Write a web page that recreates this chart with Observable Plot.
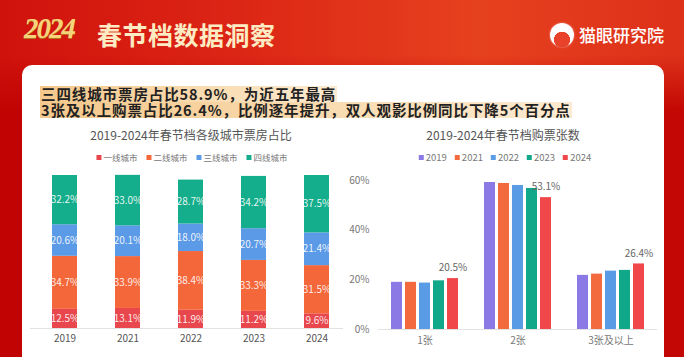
<!DOCTYPE html>
<html>
<head>
<meta charset="utf-8">
<script src="https://cdn.jsdelivr.net/npm/d3@7"></script>
<script src="https://cdn.jsdelivr.net/npm/@observablehq/plot@0.6"></script>
<style>
  html, body { margin: 0; padding: 0; }
  body {
    width: 684px; height: 357px; overflow: hidden; position: relative;
    font-family: "Noto Sans CJK SC", "Noto Sans", sans-serif;
    background:
      linear-gradient(to bottom, rgba(190,0,0,0) 55px, rgba(190,0,0,0.85) 110px),
      linear-gradient(to right, #D0120D 0%, #DC2615 35%, #E6411F 70%, #DD3019 100%);
  }
  .abs { position: absolute; }
  #yr { left: 24px; top: 12px; font: italic 700 29px "Liberation Serif", serif; letter-spacing: -2px;
        color: #F6D27A; text-shadow: 0 1px 0 #B8731E; }
  #title { left: 97px; top: 17px; font-size: 25px; font-weight: 700; color: #FDEBC4; letter-spacing: 0.5px; line-height: 34px; }
  #logoIcon { left: 550px; top: 23px; width: 24px; height: 24px; border-radius: 50%;
              background: radial-gradient(circle at 50% 70%, #E8432A 0 38%, #fff 40% 100%); box-shadow: 0 0 2px rgba(255,255,255,0.6); }
  #logoText { left: 579px; top: 23px; font-size: 17px; line-height: 24px; color: #fff; font-weight: 500; }
  #card { left: 22px; top: 65px; width: 642px; height: 320px; background: #fff; border-radius: 10px; }
  .bar { left: 40px; height: 16px; background: linear-gradient(to right, #F5C88C, #F9DDB4 60%, #FCEBD2); }
  #hltext { left: 41px; top: 86px; font-size: 14.5px; line-height: 16px; font-weight: 700; letter-spacing: 0.9px;
            color: #222; white-space: nowrap; }
  .sub { top: 127px; font-size: 12px; line-height: 16px; color: #555; transform: translateX(-50%); white-space: nowrap; }
  .legend { top: 151px; transform: translateX(-50%); display: flex; white-space: nowrap; color: #777; line-height: 12px; }
  .legend .it { display: flex; align-items: center; }
  .legend .sw { width: 5px; height: 5px; margin-right: 2px; }
</style>
</head>
<body>
<div id="yr" class="abs">2024</div>
<div id="title" class="abs">春节档数据洞察</div>
<div id="logoIcon" class="abs"></div>
<div id="logoText" class="abs">猫眼研究院</div>
<div id="card" class="abs"></div>
<div id="bar1" class="abs bar" style="top:86px"></div>
<div id="bar2" class="abs bar" style="top:102px"></div>
<div id="hltext" class="abs">三四线城市票房占比58.9%，为近五年最高<br>3张及以上购票占比26.4%，比例逐年提升，双人观影比例同比下降5个百分点</div>
<div class="abs sub" style="left:191px">2019-2024年春节档各级城市票房占比</div>
<div class="abs sub" style="left:503px">2019-2024年春节档购票张数</div>
<div id="legL" class="abs legend" style="left:192px; font-size:8.5px"></div>
<div id="legR" class="abs legend" style="left:505px; font-size:9.5px"></div>
<div id="chartL" class="abs" style="left:0px; top:165px"></div>
<div id="chartR" class="abs" style="left:340px; top:165px"></div>
<script>
// ---- Data: city-tier box office share ----
const years = ["2019", "2021", "2022", "2023", "2024"];
const tiers = ["一线城市", "二线城市", "三线城市", "四线城市"];
const tier1 = [12.5, 13.1, 11.9, 11.2, 9.6];
const tier2 = [34.7, 33.9, 38.4, 33.3, 31.5];
const tier3 = [20.6, 20.1, 18.0, 20.7, 21.4];
const tier4 = [32.2, 33.0, 28.7, 34.2, 37.5];
const tierColors = ["#E9474E", "#F4673B", "#5B9AE6", "#14AE8C"];

// ---- Data: tickets per purchase ----
const ticketCats = ["1张", "2张", "3张及以上"];
const ticketYears = ["2019", "2021", "2022", "2023", "2024"];
const oneTicket = [19.0, 19.0, 18.7, 19.6, 20.5];
const twoTickets = [59.2, 58.8, 58.0, 56.8, 53.1];
const threePlus = [21.8, 22.3, 23.5, 23.8, 26.4];
const yearColors = ["#8B7AE6", "#F26A3D", "#5A9BE6", "#10A889", "#F0474A"];

const font = '"Noto Sans CJK SC", "Noto Sans", sans-serif';

// highlight bars sized to the text lines
{
  const nodes = document.getElementById("hltext").childNodes;
  [[nodes[0], "bar1"], [nodes[2], "bar2"]].forEach(([node, id]) => {
    const range = document.createRange();
    range.selectNodeContents(node);
    const r = range.getBoundingClientRect();
    document.getElementById(id).style.width = (r.right - 40 + 1) + "px";
  });
}

const shareData = [];
[tier1, tier2, tier3, tier4].forEach((arr, i) => arr.forEach((v, j) => shareData.push({year: years[j], tier: tiers[i], value: v})));

const ticketData = [];
[oneTicket, twoTickets, threePlus].forEach((arr, i) => arr.forEach((v, j) => ticketData.push({cat: ticketCats[i], year: ticketYears[j], value: v})));

// legends
function legend(el, names, colors) {
  const root = document.getElementById(el);
  names.forEach((n, i) => {
    const it = document.createElement("div");
    it.className = "it";
    it.style.marginRight = i < names.length - 1 ? (el === "legL" ? "9px" : "8px") : "0";
    it.innerHTML = `<span class="sw" style="background:${colors[i]}"></span><span>${n}</span>`;
    root.appendChild(it);
  });
}
legend("legL", tiers, tierColors);
legend("legR", ticketYears, yearColors);

const left = Plot.plot({
  width: 345, height: 192,
  marginTop: 10, marginBottom: 29, marginLeft: 30, marginRight: 2,
  style: {fontSize: "10px", fontFamily: font, color: "#555", background: "transparent"},
  x: {domain: years, paddingInner: 0.6, paddingOuter: 0.284, align: 0.625, label: null, tickSize: 0, tickPadding: 6},
  y: {domain: [0, 100], axis: null},
  color: {domain: tiers, range: tierColors},
  marks: [
    Plot.barY(shareData, {x: "year", y: "value", fill: "tier"}),
    Plot.text(shareData, Plot.stackY({x: "year", y: "value", text: d => d.value.toFixed(1) + "%", fill: "white", fillOpacity: 0.9, fontSize: 10})),
    Plot.ruleY([0], {stroke: "#e2e2e2"})
  ]
});
document.getElementById("chartL").appendChild(left);

const right = Plot.plot({
  width: 344, height: 192,
  marginTop: 15, marginBottom: 28, marginLeft: 37, marginRight: 27,
  style: {fontSize: "10px", fontFamily: font, color: "#777", background: "transparent"},
  fx: {domain: ticketCats, padding: 0, axis: "bottom", label: null, tickSize: 0, tickPadding: 7},
  x: {domain: ticketYears, paddingInner: 0.22, paddingOuter: 0.9, axis: null},
  y: {domain: [0, 60], ticks: [0, 20, 40, 60], tickFormat: d => d + "%", tickSize: 0, tickPadding: 9, label: null},
  color: {domain: ticketYears, range: yearColors},
  marks: [
    Plot.barY(ticketData, {fx: "cat", x: "year", y: "value", fill: "year"}),
    Plot.text(ticketData.filter(d => d.year === "2024"), {fx: "cat", x: "year", y: "value", text: d => d.value.toFixed(1) + "%", dy: -10.5, fill: "#666", fontSize: 10}),
    Plot.ruleY([0], {stroke: "#e2e2e2"})
  ]
});
document.getElementById("chartR").appendChild(right);
</script>
</body>
</html>
